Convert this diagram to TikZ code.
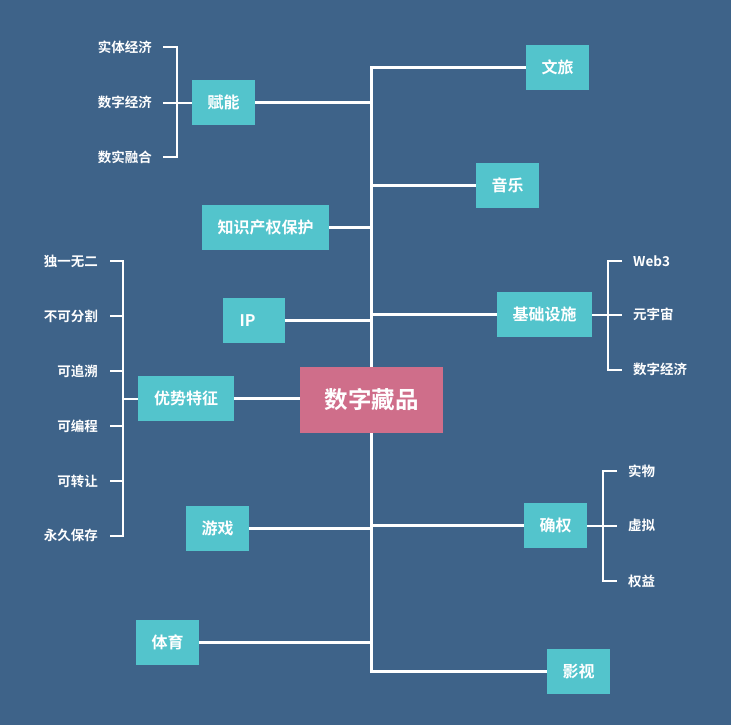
\documentclass[tikz,border=0pt]{standalone}
\usepackage{fontspec}
\setmainfont{Noto Sans CJK SC}
\newfontfamily\cjkb{Noto Sans CJK SC Bold}
\usetikzlibrary{backgrounds}
\pgfdeclarelayer{bottom}
\pgfsetlayers{bottom,background,main}
\definecolor{bgc}{RGB}{62,99,137}
\definecolor{tealc}{RGB}{83,196,204}
\definecolor{pinkc}{RGB}{207,110,138}
\tikzset{
  box/.style={fill=tealc, text=white, inner sep=0pt, font=\cjkb\fontsize{16}{16}\selectfont, minimum height=45pt},
  ctr/.style={fill=pinkc, text=white, inner sep=0pt, font=\cjkb\fontsize{23.5}{23.5}\selectfont, minimum width=143pt, minimum height=66pt},
  leafl/.style={text=white, inner sep=0pt, anchor=east, font=\cjkb\fontsize{13.5}{13.5}\selectfont},
  leafr/.style={text=white, inner sep=0pt, anchor=west, font=\cjkb\fontsize{13.5}{13.5}\selectfont},
  trunk/.style={white, line width=3pt},
  brk/.style={white, line width=2pt}
}
\begin{document}
\begin{tikzpicture}[x=1pt,y=-1pt]
\begin{pgfonlayer}{bottom}
\fill[bgc] (0,0) rectangle (731,725);
\end{pgfonlayer}
\useasboundingbox (0,0) rectangle (731,725);
% center
\node[ctr] (c) at (371.5,400) {数字藏品};
% right boxes
\node[box, minimum width=63pt] (wl) at (557.5,67.5) {文旅};
\node[box, minimum width=63pt] (yy) at (507.5,185.5) {音乐};
\node[box, minimum width=95pt] (jc) at (544.5,314.5) {基础设施};
\node[box, minimum width=63pt] (qq) at (555.5,525.5) {确权};
\node[box, minimum width=63pt] (ys) at (578.5,671.5) {影视};
% left boxes
\node[box, minimum width=63pt] (fn) at (223.5,102.5) {赋能};
\node[box, minimum width=127pt] (zs) at (265.5,227.5) {知识产权保护};
\node[box, minimum width=62pt] (ip) at (254,320.5) {};
\node[text=white, inner sep=0pt, font=\cjkb\fontsize{16}{16}\selectfont] (iptext) at (247.5,320.5) {IP};
\node[box, minimum width=96pt] (yt) at (186,398.5) {优势特征};
\node[box, minimum width=63pt] (yx) at (217.5,528.5) {游戏};
\node[box, minimum width=63pt] (ty) at (167.5,642.5) {体育};
% leaves of 赋能
\node[leafl] (f1) at (152,47) {实体经济};
\node[leafl] (f2) at (152,102.5) {数字经济};
\node[leafl] (f3) at (152,157) {数实融合};
% leaves of 优势特征
\node[leafl] (a1) at (98,261) {独一无二};
\node[leafl] (a2) at (98,316) {不可分割};
\node[leafl] (a3) at (98,371) {可追溯};
\node[leafl] (a4) at (98,426) {可编程};
\node[leafl] (a5) at (98,481) {可转让};
\node[leafl] (a6) at (98,535.5) {永久保存};
% leaves of 基础设施
\node[leafr] (b1) at (633,261) {Web3};
\node[leafr] (b2) at (633,314.5) {元宇宙};
\node[leafr] (b3) at (633,369.5) {数字经济};
% leaves of 确权
\node[leafr] (q1) at (628,471) {实物};
\node[leafr] (q2) at (628,525.5) {虚拟};
\node[leafr] (q3) at (628,581) {权益};
\coordinate (fnb) at (177,102.5);
\coordinate (ytb) at (123,398.5);
\coordinate (jcb) at (608,314.5);
\coordinate (qqb) at (603,525.5);
\begin{scope}[on background layer]
\draw[trunk] (wl.west) -| (c.north);
\draw[trunk] (ys.west) -| (c.south);
\draw[trunk] (yy.west) -- (yy.west -| c.north);
\draw[trunk] (jc.west) -- (jc.west -| c.north);
\draw[trunk] (qq.west) -- (qq.west -| c.north);
\draw[trunk] (fn.east) -- (fn.east -| c.north);
\draw[trunk] (zs.east) -- (zs.east -| c.north);
\draw[trunk] (ip.east) -- (ip.east -| c.north);
\draw[trunk] (yx.east) -- (yx.east -| c.north);
\draw[trunk] (ty.east) -- (ty.east -| c.north);
\draw[trunk] (yt.east) -- (c.west |- yt.east);
% brackets
\draw[brk] (fn.west) -- (fnb);
\draw[brk] ([xshift=11]f1.east) -| (fnb |- f3.east) -- ([xshift=11]f3.east);
\draw[brk] ([xshift=11]f2.east) -- (fnb);
\draw[brk] (yt.west) -- (ytb);
\draw[brk] ([xshift=12]a1.east) -| (ytb |- a6.east) -- ([xshift=12]a6.east);
\foreach \n in {a2,a3,a4,a5} \draw[brk] ([xshift=12]\n.east) -- (ytb |- \n.east);
\draw[brk] (jc.east) -- (jcb);
\draw[brk] ([xshift=-11]b1.west) -| (jcb |- b3.west) -- ([xshift=-11]b3.west);
\draw[brk] ([xshift=-11]b2.west) -- (jcb);
\draw[brk] (qq.east) -- (qqb);
\draw[brk] ([xshift=-11]q1.west) -| (qqb |- q3.west) -- ([xshift=-11]q3.west);
\draw[brk] ([xshift=-11]q2.west) -- (qqb);
\end{scope}
\end{tikzpicture}
\end{document}
